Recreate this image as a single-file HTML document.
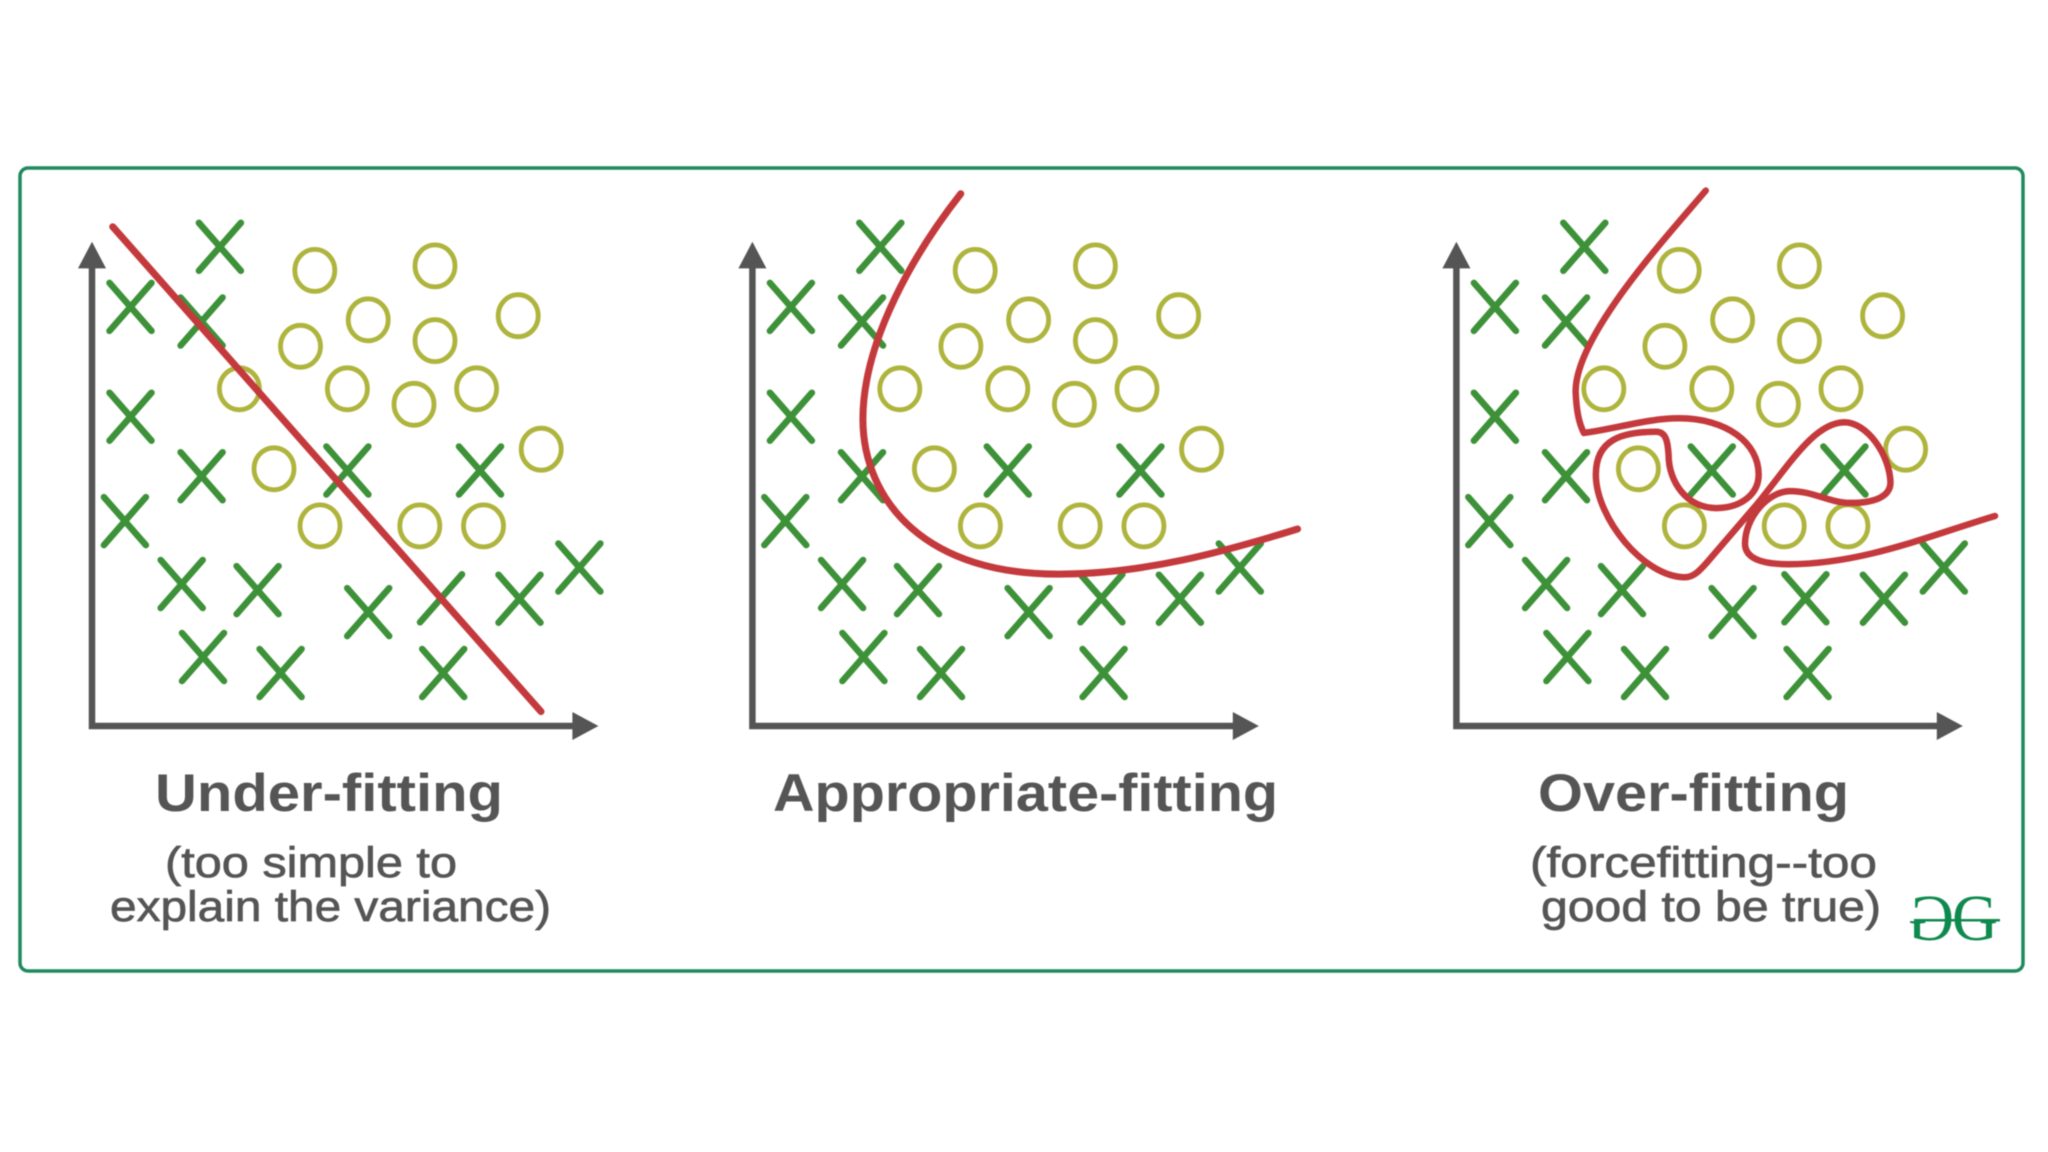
<!DOCTYPE html>
<html>
<head>
<meta charset="utf-8">
<style>
html,body{margin:0;padding:0;background:#fff;width:2048px;height:1152px;overflow:hidden}
svg{display:block;filter:blur(.5px)}
text{font-family:"Liberation Sans",sans-serif;fill:#555}
.s{stroke:#555;stroke-width:.7px}
</style>
</head>
<body>
<svg width="2048" height="1152" viewBox="0 0 2048 1152" xmlns="http://www.w3.org/2000/svg">
<defs>
  <path id="x" d="M-21 -23.5L21 24.5M21 -23.5L-21 24.5" fill="none" stroke="#3d9138" stroke-width="6.5" stroke-linecap="round"/>
  <ellipse id="o" rx="20" ry="21" fill="none" stroke="#aeb43c" stroke-width="4.8"/>
  <g id="pts">
    <use href="#x" x="219.9" y="246.3"/><use href="#x" x="130.5" y="306.4"/><use href="#x" x="201.6" y="321"/>
    <use href="#x" x="130.5" y="416.2"/><use href="#x" x="201.6" y="475.7"/><use href="#x" x="347.4" y="470"/>
    <use href="#x" x="480" y="470"/><use href="#x" x="124.9" y="520.6"/><use href="#x" x="181.7" y="583.5"/>
    <use href="#x" x="257.6" y="589.6"/><use href="#x" x="368.2" y="611.6"/><use href="#x" x="441" y="597.8"/>
    <use href="#x" x="519.5" y="598.2"/><use href="#x" x="579.4" y="567"/><use href="#x" x="203" y="656.5"/>
    <use href="#x" x="280.6" y="672.5"/><use href="#x" x="443.2" y="672.5"/>
    <use href="#o" x="314.8" y="270.4"/><use href="#o" x="435" y="265.9"/><use href="#o" x="368.2" y="319.8"/>
    <use href="#o" x="518.2" y="315.7"/><use href="#o" x="300.5" y="346.3"/><use href="#o" x="435" y="340.6"/>
    <use href="#o" x="239.4" y="388.8"/><use href="#o" x="347.4" y="388.8"/><use href="#o" x="414" y="404.3"/>
    <use href="#o" x="476.6" y="388.8"/><use href="#o" x="541.2" y="449.2"/><use href="#o" x="274" y="468.8"/>
    <use href="#o" x="320" y="525.9"/><use href="#o" x="419.8" y="525.9"/><use href="#o" x="483.5" y="525.9"/>
    <path d="M92 262V726H578" fill="none" stroke="#555" stroke-width="6.5"/>
    <path d="M92 241.8L106 268.4H78Z" fill="#555"/>
    <path d="M598.4 726L572.4 712V740Z" fill="#555"/>
  </g>
</defs>

<rect x="20" y="168" width="2003" height="803" rx="8" fill="#fff" stroke="#1f8a5e" stroke-width="3.5"/>

<use href="#pts"/>
<use href="#pts" x="660.4"/>
<use href="#pts" x="1364.4"/>

<path d="M112.7 226.7L541 711.6" fill="none" stroke="#c4393c" stroke-width="7" stroke-linecap="round"/>
<path d="M960.8 193.7C915 252 863 340 862.9 419C863 500 925 577 1065 574C1145 573 1220 553 1297.6 529" fill="none" stroke="#c4393c" stroke-width="7" stroke-linecap="round"/>
<g transform="translate(1400 170) scale(.4132 .3954)">
  <path vector-effect="non-scaling-stroke" fill="none" stroke="#c4393c" stroke-width="6.5" stroke-linecap="round" stroke-linejoin="round"
   d="M740 52C640 175 425 420 425 560C427 610 433 640 445 665C520 655 600 628 675 628C790 628 868 690 868 770C868 820 825 855 765 855C695 855 650 790 650 720C648 690 645 662 620 662C540 662 474 680 474 770C474 880 590 1030 690 1030C712 1030 728 1010 745 990L860 850C940 750 1000 640 1075 638C1130 638 1185 720 1187 790C1187 830 1140 842 1090 842C1040 842 1000 812 945 812C890 812 835 880 835 945C835 985 880 997 940 997C1120 997 1280 925 1440 875"/>
</g>

<text x="155" y="811" font-size="53" font-weight="700" textLength="348" lengthAdjust="spacingAndGlyphs">Under-fitting</text>
<text x="773" y="811" font-size="53" font-weight="700" textLength="505" lengthAdjust="spacingAndGlyphs">Appropriate-fitting</text>
<text x="1538" y="811" font-size="53" font-weight="700" textLength="311" lengthAdjust="spacingAndGlyphs">Over-fitting</text>

<text class="s" x="165" y="877" font-size="43" textLength="292" lengthAdjust="spacingAndGlyphs">(too simple to</text>
<text class="s" x="110" y="921" font-size="43" textLength="441" lengthAdjust="spacingAndGlyphs">explain the variance)</text>
<text class="s" x="1530" y="877" font-size="43" textLength="347" lengthAdjust="spacingAndGlyphs">(forcefitting--too</text>
<text class="s" x="1541" y="921" font-size="43" textLength="340" lengthAdjust="spacingAndGlyphs">good to be true)</text>

<g>
  <text x="1952" y="940" font-size="66" style="font-family:'Liberation Serif',serif;fill:#0f8a4f" textLength="46" lengthAdjust="spacingAndGlyphs">G</text>
  <text transform="translate(1954 940) scale(-1 1)" x="0" y="0" font-size="66" style="font-family:'Liberation Serif',serif;fill:#0f8a4f" textLength="46" lengthAdjust="spacingAndGlyphs">G</text>
  <rect x="1914" y="919" width="86" height="2.5" fill="#0f8a4f"/>
</g>
</svg>
</body>
</html>
